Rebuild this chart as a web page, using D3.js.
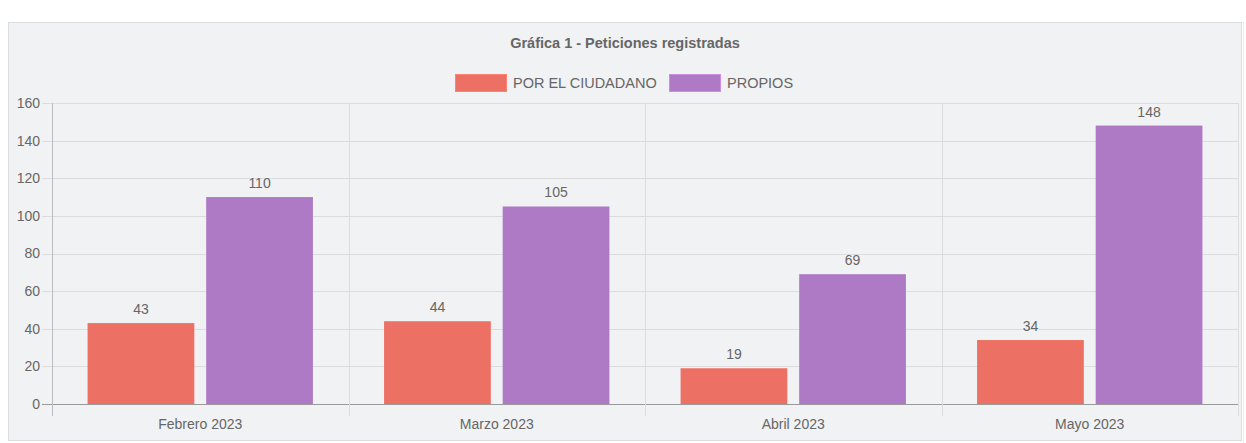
<!DOCTYPE html>
<html lang="es">
<head>
    <meta charset="UTF-8">
    <title>Gráfica 1</title>
    <script src="https://d3js.org/d3.v7.min.js"></script>
    <style>
        body { margin: 0; background: #fff; font-family: "Liberation Sans", Arial, sans-serif; }
    </style>
</head>
<body>

<script>
    months = ["Febrero 2023", "Marzo 2023", "Abril 2023", "Mayo 2023"]
    seriesNames = ["POR EL CIUDADANO", "PROPIOS"]
    ciudadano = [43, 44, 19, 34]
    propios = [110, 105, 69, 148]
    yTicks = [0, 20, 40, 60, 80, 100, 120, 140, 160]
    colors = ["#ec7063", "#af7ac5"]

    w = 1246
    h = 443
    margin = {top: 103, right: 8, bottom: 39, left: 52}
    width = w - margin.left - margin.right
    height = h - margin.top - margin.bottom

    root = d3.select("body")
        .append("svg")
        .attr("width", w)
        .attr("height", h)
        .style("display", "block")

    // panel
    root.append("rect")
        .attr("x", 8.5).attr("y", 22.5)
        .attr("width", 1233).attr("height", 418)
        .attr("fill", "#f1f2f4")
        .attr("stroke", "#dcdde0")

    root.append("line")
        .attr("x1", 1243.5).attr("x2", 1243.5)
        .attr("y1", 22).attr("y2", 443)
        .attr("stroke", "#ececec")

    // title
    root.append("text")
        .attr("x", 625).attr("y", 48)
        .attr("text-anchor", "middle")
        .attr("font-size", "14.5px")
        .attr("font-weight", "bold")
        .attr("fill", "#666")
        .text("Gráfica 1 - Peticiones registradas")

    // legend
    legend = root.append("g")
    legendX = [455, 669]
    seriesNames.forEach((name, i) => {
        legend.append("rect")
            .attr("x", legendX[i] + 0.5).attr("y", 74.5)
            .attr("width", 51).attr("height", 17)
            .attr("fill", colors[i])
            .attr("stroke", d3.color(colors[i]).brighter(0.4))
        legend.append("text")
            .attr("x", legendX[i] + 58).attr("y", 88)
            .attr("font-size", "14.5px")
            .attr("fill", "#666")
            .text(name)
    })

    svg = root.append("g")
        .attr("transform", "translate(" + margin.left + "," + margin.top + ")")

    x = d3.scaleBand()
        .domain(months)
        .range([0, width])
        .paddingInner(0)

    inner = d3.scaleBand()
        .domain(seriesNames)
        .range([x.bandwidth() * 0.1, x.bandwidth() * 0.9])
        .paddingInner(0.1)
        .paddingOuter(0.05)

    y = d3.scaleLinear()
        .domain([0, 160])
        .range([height, 0])

    // horizontal grid
    svg.append("g")
        .selectAll("line")
        .data(yTicks)
        .join("line")
        .attr("x1", -10).attr("x2", width)
        .attr("y1", d => Math.round(y(d)) + 0.5)
        .attr("y2", d => Math.round(y(d)) + 0.5)
        .attr("stroke", d => d === 0 ? "#9a9a9a" : "#dcdcdc")

    // vertical grid
    boundaries = months.map(m => x(m)).concat([width])
    svg.append("g")
        .selectAll("line")
        .data(boundaries)
        .join("line")
        .attr("x1", d => Math.round(d) + 0.5).attr("x2", d => Math.round(d) + 0.5)
        .attr("y1", 0).attr("y2", height + 12)
        .attr("stroke", (d, i) => i === 0 ? "#bdbdbd" : "#dcdcdc")

    // y tick labels
    svg.append("g")
        .selectAll("text")
        .data(yTicks)
        .join("text")
        .attr("x", -12)
        .attr("y", d => y(d))
        .attr("dy", "0.35em")
        .attr("text-anchor", "end")
        .attr("font-size", "14px")
        .attr("fill", "#666")
        .text(d => d)

    // x labels
    svg.append("g")
        .selectAll("text")
        .data(months)
        .join("text")
        .attr("x", d => x(d) + x.bandwidth() / 2)
        .attr("y", height + 25)
        .attr("text-anchor", "middle")
        .attr("font-size", "14px")
        .attr("fill", "#666")
        .text(d => d)

    data = months.map((m, i) => ({month: m, values: [ciudadano[i], propios[i]]}))

    groups = svg.selectAll("g.month")
        .data(data)
        .join("g")
        .attr("class", "month")
        .attr("transform", d => "translate(" + x(d.month) + ",0)")

    groups.selectAll("rect")
        .data(d => d.values.map((v, i) => ({name: seriesNames[i], value: v, i: i})))
        .join("rect")
        .attr("x", d => inner(d.name))
        .attr("width", inner.bandwidth())
        .attr("y", d => y(d.value))
        .attr("height", d => height - y(d.value))
        .attr("fill", d => colors[d.i])

    groups.selectAll("text")
        .data(d => d.values.map((v, i) => ({name: seriesNames[i], value: v})))
        .join("text")
        .attr("x", d => inner(d.name) + inner.bandwidth() / 2)
        .attr("y", d => y(d.value) - 9)
        .attr("text-anchor", "middle")
        .attr("font-size", "14px")
        .attr("fill", "#666")
        .text(d => d.value)
</script>

</body>
</html>
